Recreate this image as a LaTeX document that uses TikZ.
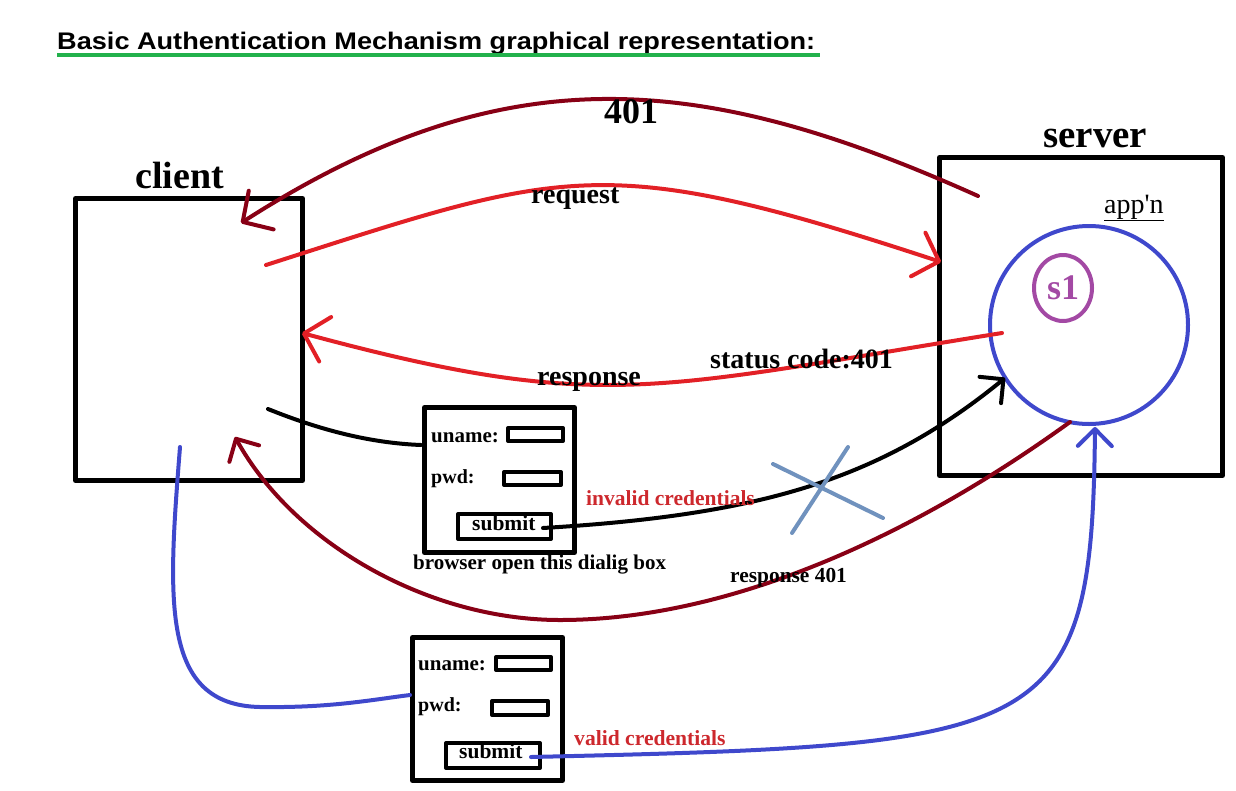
\documentclass[tikz,border=0pt]{standalone}
\usepackage{fontspec}
\setmainfont{Liberation Serif}
\newfontfamily\headfont{Liberation Sans}
\usetikzlibrary{arrows.meta,shapes.geometric}
\definecolor{respmaroon}{RGB}{136,0,21}
\definecolor{flowred}{RGB}{226,32,38}
\definecolor{appblue}{RGB}{63,72,204}
\definecolor{sesspurple}{RGB}{163,73,164}
\definecolor{crossblue}{RGB}{112,146,190}
\definecolor{titlegreen}{RGB}{34,177,76}
\definecolor{notered}{RGB}{205,40,45}
\newcommand{\fsz}[1]{\fontsize{#1}{#1}\selectfont}
\tikzset{
  hostbox/.style={draw, line width=5pt, inner sep=0pt, outer sep=0pt},
  fieldbox/.style={draw, line width=4pt, inner sep=0pt, outer sep=0pt},
  txt/.style={inner sep=0pt, anchor=base west},
  flow/.style={line width=4pt, line cap=round},
  bigbarb/.style={flow, -{Straight Barb[length=22pt,width=46pt,round]}},
  smallbarb/.style={flow, -{Straight Barb[length=17pt,width=34pt,round]}}
}

\begin{document}
\begin{tikzpicture}[x=1pt, y=-1pt, line join=round]
  \useasboundingbox (0,0) rectangle (1236,790);

  % Heading with its green underline.
  \node[txt, font=\headfont\bfseries\fsz{24}, xscale=1.13] (title) at (57,49)
    {Basic Authentication Mechanism graphical representation:};
  \draw[titlegreen, line width=4pt] (57,55) -- (820,55);

  % The two hosts.
  \node[hostbox, minimum width=227pt, minimum height=282pt] (client) at (189,339.5) {};
  \node[txt, font=\bfseries\fsz{38}] (clientname) at (135,188) {client};
  \node[hostbox, minimum width=283pt, minimum height=318pt] (server) at (1081,316.5) {};
  \node[txt, font=\bfseries\fsz{39}] (servername) at (1043,147) {server};
  \node[txt, font=\fsz{28}] (appname) at (1104,213) {\underline{app\textquotesingle n}};
  \node[draw=appblue, circle, line width=4pt, minimum size=198pt, inner sep=0pt] (app) at (1089,325) {};
  \node[draw=sesspurple, ellipse, line width=4pt, text=sesspurple, font=\bfseries\fsz{36},
    minimum width=58pt, minimum height=66pt, inner sep=0pt] (session) at (1063,288) {s1};

  % First round trip.
  \coordinate (reqstart) at (266,265);
  \coordinate (reqend) at (941,262);
  \coordinate (respstart) at (1002,333);
  \coordinate (respend) at (302,333);
  \coordinate (denystart) at (978,196);
  \coordinate (denyend) at (241,223);
  \draw[bigbarb, flowred] (reqstart) .. controls (566,169) and (601,150) .. (reqend);
  \draw[bigbarb, flowred] (respstart) .. controls (652,389) and (602,414) .. (respend);
  \draw[bigbarb, respmaroon] (denystart) .. controls (698,70) and (503,55) .. (denyend);
  \node[txt, font=\bfseries\fsz{28}] (reqlabel) at (531,203) {request};
  \node[txt, font=\bfseries\fsz{28}] (resplabel) at (537,385) {response};
  \node[txt, font=\bfseries\fsz{28}] (statuslabel) at (710,368) {status code:401};
  \node[txt, font=\bfseries\fsz{36}] (denylabel) at (604,123) {401};

  % Dialog box with wrong credentials.
  \node[hostbox, minimum width=150pt, minimum height=145pt] (formA) at (499.5,480) {};
  \node[txt, font=\bfseries\fsz{21}] (unameA) at (431,442) {uname:};
  \node[fieldbox, minimum width=55pt, minimum height=13pt] (unameAbox) at (535.5,434.5) {};
  \node[txt, font=\bfseries\fsz{20}] (pwdA) at (431,483) {pwd:};
  \node[fieldbox, minimum width=57pt, minimum height=13pt] (pwdAbox) at (532.5,478.5) {};
  \node[fieldbox, minimum width=93pt, minimum height=25pt] (submitAbox) at (504.5,526.5) {};
  \node[txt, font=\bfseries\fsz{21.5}] (submitA) at (472,530) {submit};
  \node[txt, font=\bfseries\fsz{21}] (formAcaption) at (413,569) {browser open this dialig box};

  \coordinate (clientoutA) at (268,409);
  \coordinate (formAin) at (421,445);
  \coordinate (submitAout) at (543,528);
  \coordinate (appinA) at (1005,378);
  \coordinate (rejectstart) at (1070,422);
  \coordinate (rejectend) at (235,437);
  \draw[flow] (clientoutA) .. controls (320,430) and (370,443) .. (formAin);
  \draw[smallbarb] (submitAout) .. controls (760,515) and (880,480) .. (appinA);
  \node[txt, notered, font=\bfseries\fsz{21.5}] (invalidlabel) at (586,505) {invalid credentials};
  \draw[crossblue, line width=4pt, line cap=round]
    (773,464) -- (883,518) (848,447) -- (792,533);
  \draw[smallbarb, respmaroon] (rejectstart) .. controls (900,545) and (720,620) .. (560,620)
    .. controls (430,620) and (295,545) .. (rejectend);
  \node[txt, font=\bfseries\fsz{21.4}] (rejectlabel) at (730,582) {response 401};

  % Dialog box with right credentials.
  \node[hostbox, minimum width=150pt, minimum height=143pt] (formB) at (487.5,709) {};
  \node[txt, font=\bfseries\fsz{21}] (unameB) at (418,670) {uname:};
  \node[fieldbox, minimum width=55pt, minimum height=13pt] (unameBbox) at (523.5,663.5) {};
  \node[txt, font=\bfseries\fsz{20}] (pwdB) at (418,711) {pwd:};
  \node[fieldbox, minimum width=56pt, minimum height=14pt] (pwdBbox) at (520,708) {};
  \node[fieldbox, minimum width=94pt, minimum height=25pt] (submitBbox) at (493,755.5) {};
  \node[txt, font=\bfseries\fsz{21.5}] (submitB) at (459,758) {submit};

  \coordinate (clientoutB) at (180,447);
  \coordinate (formBin) at (410,695);
  \coordinate (submitBout) at (531,757);
  \coordinate (appinB) at (1095,427);
  \draw[flow, appblue] (clientoutB) .. controls (168,600) and (160,705) .. (260,707)
    .. controls (330,708) and (370,700) .. (formBin);
  \draw[smallbarb, appblue] (submitBout) .. controls (1050,745) and (1092,740) .. (appinB);
  \node[txt, notered, font=\bfseries\fsz{21.6}] (validlabel) at (574,745) {valid credentials};
\end{tikzpicture}
\end{document}
